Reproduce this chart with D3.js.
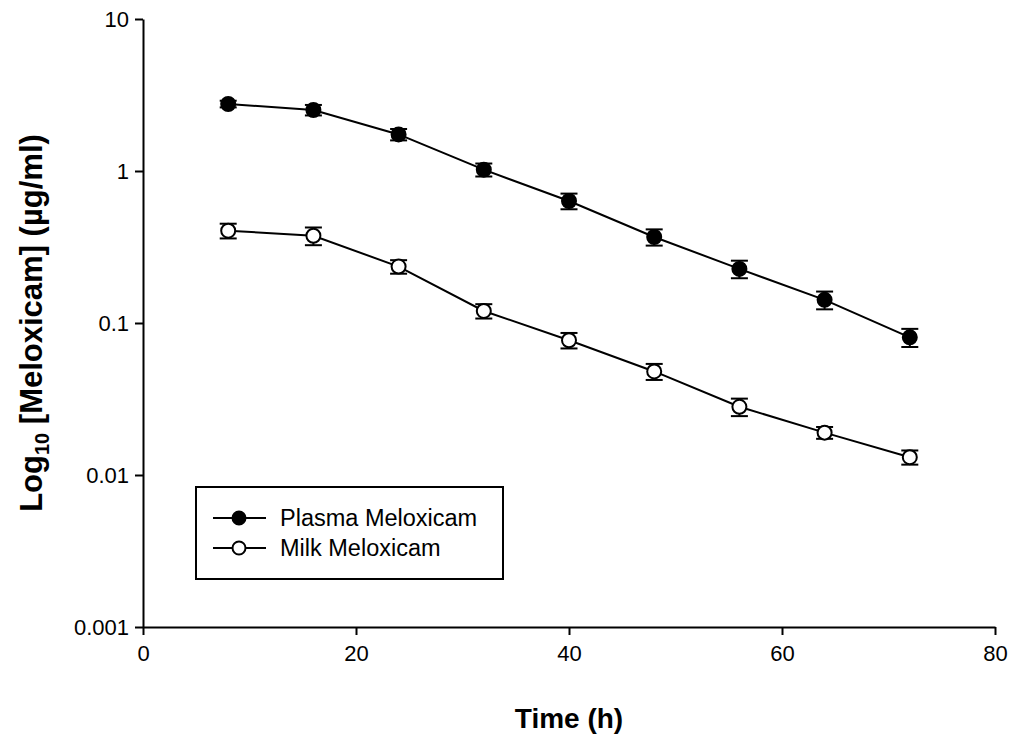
<!DOCTYPE html>
<html>
<head>
<meta charset="utf-8">
<script src="https://cdn.jsdelivr.net/npm/d3@7"></script>
<style>
  body { margin: 0; background: #fff; }
  svg { font-family: Arial, "Liberation Sans", sans-serif; }
</style>
</head>
<body>
<div id="plot"></div>
<script>
// time points (h)
var times = [8, 16, 24, 32, 40, 48, 56, 64, 72];
// plasma meloxicam, mean and error (ug/ml)
var plasmaMean = [2.76, 2.52, 1.74, 1.02, 0.635, 0.368, 0.227, 0.142, 0.0805];
var plasmaErr  = [0.14, 0.2, 0.15, 0.1, 0.075, 0.045, 0.03, 0.019, 0.011];
// milk meloxicam
var milkMean = [0.405, 0.375, 0.235, 0.12, 0.077, 0.048, 0.0281, 0.019, 0.0131];
var milkErr  = [0.045, 0.05, 0.024, 0.013, 0.009, 0.0058, 0.0037, 0.0017, 0.0014];

var xTicks = [0, 20, 40, 60, 80];
var yTicks = [0.001, 0.01, 0.1, 1, 10];
var yTickLabels = ["0.001", "0.01", "0.1", "1", "10"];

var series = [
  {name: "Plasma Meloxicam", mean: plasmaMean, err: plasmaErr, fill: "#000"},
  {name: "Milk Meloxicam", mean: milkMean, err: milkErr, fill: "#fff"}
];

var width = 1016, height = 743;
var margin = {top: 19, right: 21, bottom: 116, left: 143};

var svg = d3.select("#plot")
  .append("svg")
    .attr("width", width)
    .attr("height", height);

var x = d3.scaleLinear()
    .domain([0, 80])
    .range([margin.left, width - margin.right]);

var y = d3.scaleLog()
    .domain([0.001, 10])
    .range([height - margin.bottom, margin.top]);

// X axis
var xAxis = svg.append("g")
    .attr("transform", "translate(0," + (height - margin.bottom) + ")")
    .call(d3.axisBottom(x).tickValues(xTicks).tickSize(8).tickSizeOuter(0).tickPadding(10));

// Y axis
var yAxis = svg.append("g")
    .attr("transform", "translate(" + margin.left + ",0)")
    .call(d3.axisLeft(y).tickValues(yTicks).tickSize(8).tickSizeOuter(0).tickPadding(6)
      .tickFormat(function(d, i) { return yTickLabels[i]; }));

svg.selectAll(".domain").attr("stroke", "#000").attr("stroke-width", 2);
svg.selectAll(".tick line").attr("stroke", "#000").attr("stroke-width", 2);
svg.selectAll(".tick text").attr("font-size", "22px").attr("fill", "#000")
    .attr("font-family", "Arial, 'Liberation Sans', sans-serif");

// axis titles
svg.append("text")
    .attr("x", (x(0) + x(80)) / 2)
    .attr("y", 728)
    .attr("text-anchor", "middle")
    .attr("font-size", "28px")
    .attr("font-weight", "bold")
    .text("Time (h)");

var yTitle = svg.append("text")
    .attr("transform", "translate(42," + ((y(0.001) + y(10)) / 2) + ") rotate(-90)")
    .attr("text-anchor", "middle")
    .attr("font-size", "31px")
    .attr("font-weight", "bold");
yTitle.append("tspan").text("Log");
yTitle.append("tspan").attr("font-size", "20px").attr("dy", "7").text("10");
yTitle.append("tspan").attr("dy", "-7").text(" [Meloxicam] (\u00b5g/ml)");

var line = d3.line()
    .x(function(d) { return x(d.t); })
    .y(function(d) { return y(d.v); });

series.forEach(function(s) {
  var pts = times.map(function(t, i) { return {t: t, v: s.mean[i], e: s.err[i]}; });

  svg.append("path")
      .datum(pts)
      .attr("d", line)
      .attr("fill", "none")
      .attr("stroke", "#000")
      .attr("stroke-width", 2);

  var eb = svg.append("g");
  pts.forEach(function(d) {
    var cx = x(d.t);
    var yHi = y(d.v + d.e), yLo = y(d.v - d.e);
    eb.append("line").attr("x1", cx).attr("x2", cx).attr("y1", yHi).attr("y2", yLo)
      .attr("stroke", "#000").attr("stroke-width", 2);
    [yHi, yLo].forEach(function(yy) {
      eb.append("line").attr("x1", cx - 8.5).attr("x2", cx + 8.5).attr("y1", yy).attr("y2", yy)
        .attr("stroke", "#000").attr("stroke-width", 2);
    });
  });

  svg.append("g").selectAll("circle")
    .data(pts)
    .enter()
    .append("circle")
      .attr("cx", function(d) { return x(d.t); })
      .attr("cy", function(d) { return y(d.v); })
      .attr("r", 7)
      .attr("fill", s.fill)
      .attr("stroke", "#000")
      .attr("stroke-width", 2);
});

// legend
var legend = svg.append("g");
legend.append("rect")
    .attr("x", 196).attr("y", 487)
    .attr("width", 307).attr("height", 92)
    .attr("fill", "#fff")
    .attr("stroke", "#000")
    .attr("stroke-width", 2);

series.forEach(function(s, i) {
  var ly = 518 + i * 30;
  legend.append("line")
      .attr("x1", 213).attr("x2", 266).attr("y1", ly).attr("y2", ly)
      .attr("stroke", "#000").attr("stroke-width", 2);
  legend.append("circle")
      .attr("cx", 239).attr("cy", ly).attr("r", 6.5)
      .attr("fill", s.fill).attr("stroke", "#000").attr("stroke-width", 2);
  legend.append("text")
      .attr("x", 280).attr("y", ly)
      .attr("dy", "0.35em")
      .attr("font-size", "23.5px")
      .text(s.name);
});
</script>
</body>
</html>
